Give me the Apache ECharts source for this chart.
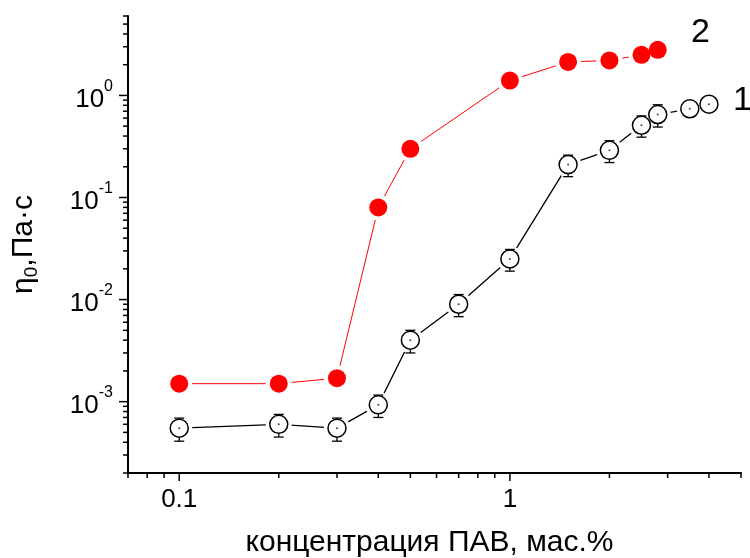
<!DOCTYPE html>
<html>
<head>
<meta charset="utf-8">
<script src="https://cdn.jsdelivr.net/npm/echarts@6/dist/echarts.min.js"></script>
<style>
  html, body { margin: 0; padding: 0; background: #fff; }
  #chart { width: 750px; height: 558px; }
</style>
</head>
<body>
<div id="chart"></div>
<script>
// Series 1: open circles with error bars
const conc1 = [0.1, 0.2, 0.3, 0.4, 0.5, 0.7, 1.0, 1.5, 2.0, 2.5, 2.8, 3.5, 4.0];
const visc1 = [5.5e-4, 6.0e-4, 5.5e-4, 9.3e-4, 4.0e-3, 9.0e-3, 0.025, 0.21, 0.29, 0.51, 0.65, 0.74, 0.82];
const err1  = [1.4e-4, 1.5e-4, 1.4e-4, 2.3e-4, 1.0e-3, 2.2e-3, 6.0e-3, 0.05, 0.07, 0.12, 0.16, 0, 0];

// Series 2: filled red circles
const conc2 = [0.1, 0.2, 0.3, 0.4, 0.5, 1.0, 1.5, 2.0, 2.5, 2.8];
const visc2 = [1.5e-3, 1.5e-3, 1.7e-3, 0.08, 0.30, 1.4, 2.13, 2.2, 2.5, 2.8];

// Axis ranges and tick positions
const xRange = [0.07, 5];
const yRange = [2e-4, 6];
const xMajorTicks = [0.1, 1];
const xMinorTicks = [0.07, 0.08, 0.09, 0.2, 0.3, 0.4, 0.5, 0.6, 0.7, 0.8, 0.9, 2, 3, 4, 5];
const yMajorTicks = [1e-3, 1e-2, 1e-1, 1];
const yMinorTicks = [
  2e-4, 3e-4, 4e-4, 5e-4, 6e-4, 7e-4, 8e-4, 9e-4,
  2e-3, 3e-3, 4e-3, 5e-3, 6e-3, 7e-3, 8e-3, 9e-3,
  0.02, 0.03, 0.04, 0.05, 0.06, 0.07, 0.08, 0.09,
  0.2, 0.3, 0.4, 0.5, 0.6, 0.7, 0.8, 0.9,
  2, 3, 4, 5, 6
];

const FONT = "'Liberation Sans', Arial, sans-serif";

const pairs = (xs, ys) => xs.map((x, i) => [x, ys[i]]);
const pts1 = pairs(conc1, visc1);
const pts2 = pairs(conc2, visc2);
const errData = conc1.map((x, i) => [x, visc1[i], err1[i]]);

const xTickData = xMajorTicks.map(v => [v, yRange[0], 1]).concat(xMinorTicks.map(v => [v, yRange[0], 0]));
const yTickData = yMajorTicks.map(v => [xRange[0], v, 1]).concat(yMinorTicks.map(v => [xRange[0], v, 0]));

const tickStyle = { stroke: '#000', lineWidth: 1.5 };

function isDecade(v) {
  const e = Math.log10(v);
  return Math.abs(e - Math.round(e)) < 1e-6;
}

function decadeLabel(v) {
  if (!isDecade(v)) return '';
  return '{b|10}{s|' + Math.round(Math.log10(v)) + '}';
}

const chart = echarts.init(document.getElementById('chart'), null, { renderer: 'canvas' });

chart.setOption({
  animation: false,
  backgroundColor: '#fff',
  grid: { left: 128, right: 9, top: 16, bottom: 85, containLabel: false, outerBoundsMode: 'none' },
  xAxis: {
    type: 'log',
    min: xRange[0],
    max: xRange[1],
    axisLine: { show: true, lineStyle: { color: '#000', width: 2 } },
    axisTick: { show: false },
    splitLine: { show: false },
    minorTick: { show: false },
    axisLabel: {
      margin: 14,
      color: '#000',
      fontFamily: FONT,
      fontSize: 26,
      showMinLabel: false,
      showMaxLabel: false,
      formatter: v => (isDecade(v) ? String(v) : '')
    },
    name: 'концентрация ПАВ, мас.%',
    nameLocation: 'middle',
    nameGap: 55,
    nameTextStyle: { color: '#000', fontFamily: FONT, fontSize: 30, padding: [0, 10, 0, 0] }
  },
  yAxis: {
    type: 'log',
    min: yRange[0],
    max: yRange[1],
    axisLine: { show: true, lineStyle: { color: '#000', width: 2 } },
    axisTick: { show: false },
    splitLine: { show: false },
    minorTick: { show: false },
    axisLabel: {
      margin: 15,
      color: '#000',
      fontFamily: FONT,
      showMinLabel: false,
      showMaxLabel: false,
      formatter: decadeLabel,
      rich: {
        b: { fontSize: 26, fontFamily: FONT, color: '#000', lineHeight: 34, verticalAlign: 'bottom' },
        s: { fontSize: 16, fontFamily: FONT, color: '#000', lineHeight: 16, verticalAlign: 'top' }
      }
    },
    name: 'η{sub|0},Па·с',
    nameLocation: 'middle',
    nameRotate: 90,
    nameGap: 87,
    nameTextStyle: {
      color: '#000', fontFamily: FONT, fontSize: 30, lineHeight: 34,
      rich: {
        sub: { fontSize: 19, fontFamily: FONT, color: '#000', lineHeight: 19, verticalAlign: 'bottom' }
      }
    }
  },
  series: [
    // axis ticks, major and minor
    {
      type: 'custom', name: 'xTicks', silent: true, clip: false, z: 10,
      data: xTickData,
      renderItem: (params, api) => {
        const p = api.coord([api.value(0), api.value(1)]);
        const len = api.value(2) ? 8 : 5;
        return { type: 'line', shape: { x1: p[0], y1: p[1], x2: p[0], y2: p[1] + len }, style: tickStyle };
      }
    },
    {
      type: 'custom', name: 'yTicks', silent: true, clip: false, z: 10,
      data: yTickData,
      renderItem: (params, api) => {
        const p = api.coord([api.value(0), api.value(1)]);
        const len = api.value(2) ? 9 : 5;
        return { type: 'line', shape: { x1: p[0], y1: p[1], x2: p[0] - len, y2: p[1] }, style: tickStyle };
      }
    },
    // connecting lines
    {
      type: 'line', name: 'line1', data: pts1, showSymbol: false, silent: true, z: 2,
      lineStyle: { color: '#000', width: 1.3 }
    },
    {
      type: 'line', name: 'line2', data: pts2, showSymbol: false, silent: true, z: 2,
      lineStyle: { color: '#ff0000', width: 1 }
    },
    // white gaps around markers
    {
      type: 'scatter', name: 'gap1', data: pts1, symbol: 'circle', symbolSize: 26, silent: true, z: 3,
      itemStyle: { color: '#fff', opacity: 1 }
    },
    {
      type: 'scatter', name: 'gap2', data: pts2, symbol: 'circle', symbolSize: 26, silent: true, z: 3,
      itemStyle: { color: '#fff', opacity: 1 }
    },
    // error bars
    {
      type: 'custom', name: 'err1', silent: true, z: 4,
      data: errData,
      renderItem: (params, api) => {
        const x = api.value(0), y = api.value(1), e = api.value(2);
        if (!(e > 0)) return null;
        const c = api.coord([x, y]);
        const t = api.coord([x, y + e]);
        const b = api.coord([x, y - e]);
        const st = { stroke: '#000', lineWidth: 1.3 };
        return {
          type: 'group',
          children: [
            { type: 'line', shape: { x1: c[0], y1: c[1], x2: t[0], y2: t[1] }, style: st },
            { type: 'line', shape: { x1: c[0], y1: c[1], x2: b[0], y2: b[1] }, style: st },
            { type: 'line', shape: { x1: t[0] - 5, y1: t[1], x2: t[0] + 5, y2: t[1] }, style: st },
            { type: 'line', shape: { x1: b[0] - 5, y1: b[1], x2: b[0] + 5, y2: b[1] }, style: st }
          ]
        };
      }
    },
    // markers
    {
      type: 'scatter', name: '1', data: pts1, symbol: 'circle', symbolSize: 18, z: 5,
      itemStyle: { color: '#fff', borderColor: '#000', borderWidth: 1.5, opacity: 1 }
    },
    {
      type: 'scatter', name: 'centre1', data: pts1, symbol: 'circle', symbolSize: 2, silent: true, z: 6,
      itemStyle: { color: '#444', opacity: 1 }
    },
    {
      type: 'scatter', name: '2', data: pts2, symbol: 'circle', symbolSize: 18, z: 5,
      itemStyle: { color: '#ff0000', opacity: 1 }
    }
  ],
  graphic: [
    { type: 'text', left: 691, top: 16, style: { text: '2', font: '34px ' + FONT, fill: '#000' } },
    { type: 'text', left: 733, top: 84, style: { text: '1', font: '34px ' + FONT, fill: '#000' } }
  ]
});
</script>
</body>
</html>
